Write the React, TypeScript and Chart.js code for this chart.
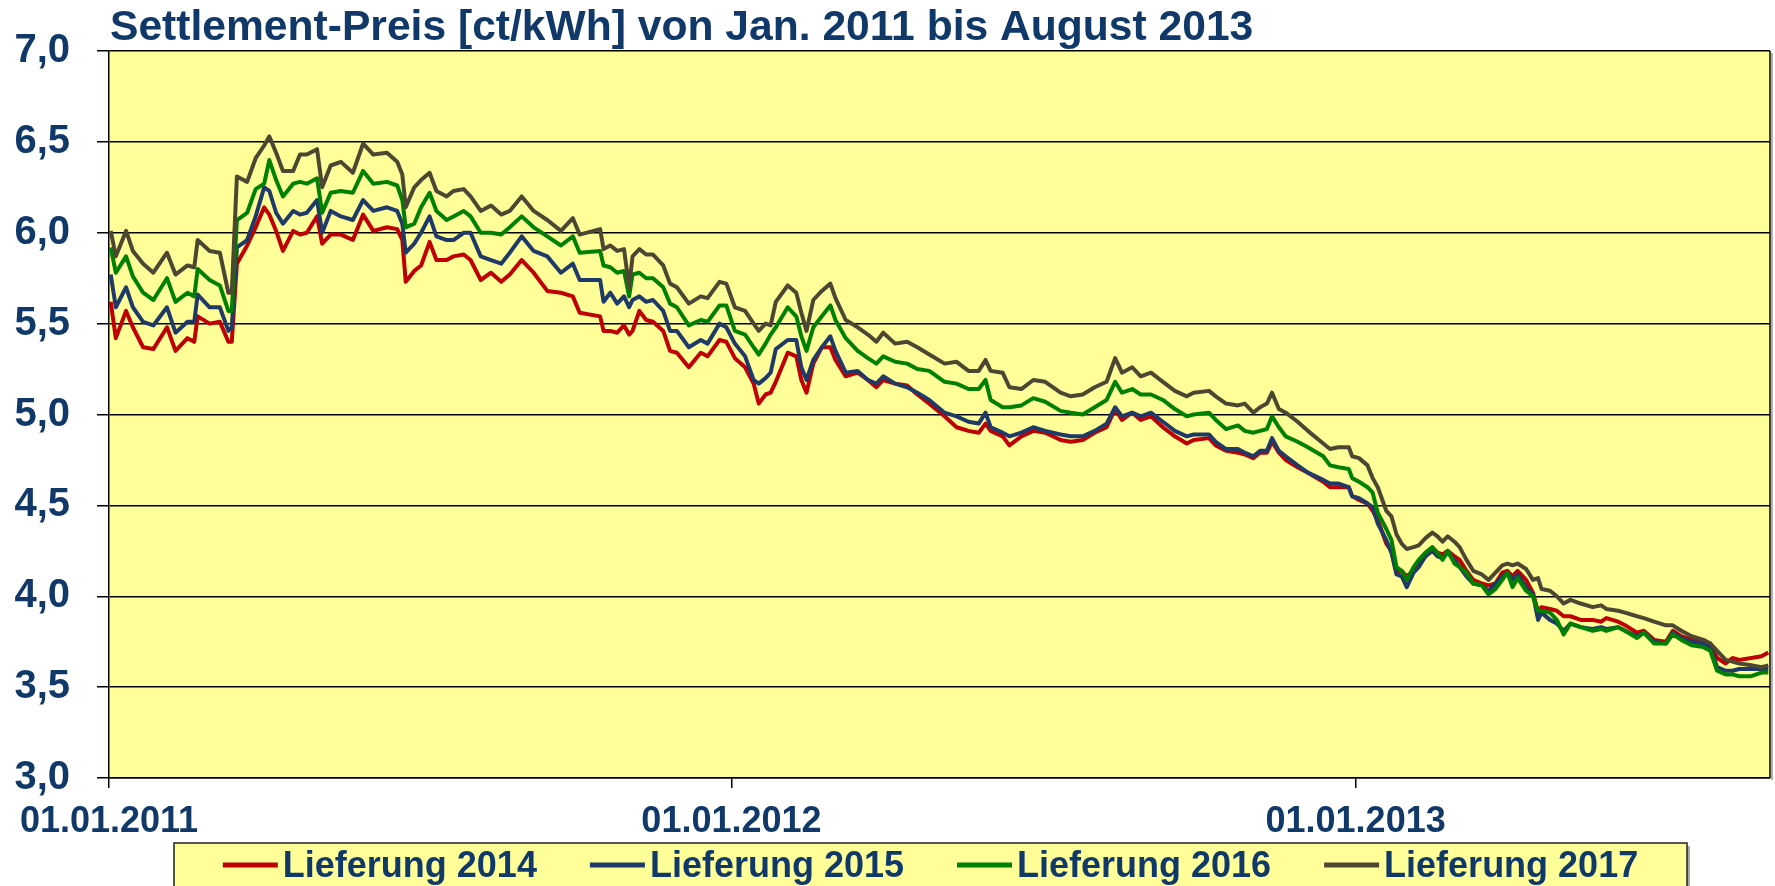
import React, { useEffect, useRef } from 'react';
import { Chart, registerables } from 'chart.js';

Chart.register(...registerables);

const TITLE = 'Settlement-Preis [ct/kWh] von Jan. 2011 bis August 2013';
const seriesLabels = ['Lieferung 2014', 'Lieferung 2015', 'Lieferung 2016', 'Lieferung 2017'];
const seriesColors = ['#C00000', '#1F3A68', '#008000', '#4D4632'];
const xTickDays = [0, 365, 731];
const xTickLabels = ['01.01.2011', '01.01.2012', '01.01.2013'];
const X_MAX_DAY = 974;
const Y_MIN = 3;
const Y_MAX = 7;
const Y_STEP = 0.5;

// sample dates, as days since 01.01.2011
const sampleDay = [
  1, 4, 10, 14, 20, 26, 34, 39, 46, 50, 52, 59, 65, 70, 72, 75, 81, 86, 91, 94,
  98, 102, 108, 112, 116, 122, 125, 130, 136, 143, 149, 155, 163, 169, 172, 174, 179, 183, 188, 192,
  198, 202, 208, 212, 218, 224, 230, 235, 242, 249, 257, 265, 272, 276, 288,
  290, 294, 298, 302, 305, 307, 311, 315, 319, 325, 329, 333, 340, 347, 351, 358, 362, 367, 373, 378,
  381, 385, 388, 391, 398, 403, 406, 409, 413, 418, 423, 426, 432, 439, 445, 450, 454, 461, 468, 474,
  481, 490, 497, 504, 510, 514, 517, 524, 528, 535, 542, 549, 558, 564, 571, 578, 585, 590, 594, 600,
  605, 611, 618, 625, 632, 636,
  645, 649, 655, 662, 666, 671, 675, 679, 682, 686, 690, 697, 703, 712, 716, 721, 727, 729, 733, 738,
  741, 744, 749, 752, 755, 758, 761, 765, 768, 772, 776, 779, 782, 785, 789, 792, 796, 800, 805, 809,
  813, 817, 820, 823, 826, 831, 835, 838, 840, 845, 849, 853, 857, 863, 870, 875, 878, 885, 889, 896,
  900, 906, 913, 917, 922, 928, 935, 939, 943, 948, 952, 956, 963, 969, 973,
];

const lieferung2014 = [
  5.62, 5.42, 5.57, 5.48, 5.37, 5.36, 5.48, 5.35, 5.42, 5.40, 5.54, 5.50, 5.51, 5.40, 5.40, 5.83, 5.93, 6.03, 6.14, 6.10,
  6.01, 5.90, 6.01, 5.99, 6.00, 6.09, 5.94, 5.99, 5.99, 5.96, 6.10, 6.01, 6.03, 6.02, 5.96, 5.73, 5.79, 5.82, 5.95, 5.85,
  5.85, 5.87, 5.88, 5.85, 5.74, 5.78, 5.73, 5.77, 5.85, 5.78, 5.68, 5.67, 5.65, 5.56, 5.54,
  5.46, 5.46, 5.45, 5.49, 5.44, 5.46, 5.57, 5.52, 5.51, 5.46, 5.35, 5.34, 5.26, 5.34, 5.32, 5.41, 5.40, 5.31, 5.26, 5.17,
  5.06, 5.11, 5.12, 5.18, 5.34, 5.32, 5.19, 5.12, 5.28, 5.37, 5.37, 5.30, 5.21, 5.23, 5.19, 5.15, 5.19, 5.17, 5.16, 5.11,
  5.06, 4.99, 4.93, 4.91, 4.90, 4.95, 4.91, 4.88, 4.83, 4.88, 4.91, 4.90, 4.86, 4.85, 4.86, 4.90, 4.93, 5.03, 4.97, 5.01,
  4.97, 4.99, 4.93, 4.88, 4.84, 4.86,
  4.87, 4.83, 4.80, 4.79, 4.78, 4.76, 4.79, 4.79, 4.85, 4.79, 4.75, 4.71, 4.68, 4.63, 4.60, 4.60, 4.60, 4.55, 4.53, 4.51,
  4.47, 4.42, 4.29, 4.25, 4.13, 4.14, 4.11, 4.14, 4.18, 4.22, 4.25, 4.24, 4.23, 4.25, 4.22, 4.20, 4.14, 4.09, 4.07, 4.06,
  4.07, 4.13, 4.14, 4.11, 4.14, 4.09, 4.02, 3.91, 3.94, 3.93, 3.92, 3.89, 3.89, 3.87, 3.87, 3.86, 3.88, 3.86, 3.84, 3.80,
  3.81, 3.76, 3.75, 3.81, 3.78, 3.76, 3.75, 3.74, 3.66, 3.63, 3.66, 3.65, 3.66, 3.67, 3.69,
];

const lieferung2015 = [
  5.77, 5.59, 5.70, 5.59, 5.51, 5.49, 5.59, 5.45, 5.51, 5.51, 5.66, 5.59, 5.59, 5.46, 5.48, 5.92, 5.96, 6.09, 6.25, 6.23,
  6.11, 6.05, 6.12, 6.10, 6.11, 6.18, 6.00, 6.12, 6.09, 6.07, 6.18, 6.12, 6.14, 6.12, 6.05, 5.89, 5.94, 6.00, 6.09, 5.98,
  5.96, 5.96, 6.00, 6.00, 5.87, 5.85, 5.83, 5.89, 5.98, 5.90, 5.87, 5.78, 5.83, 5.74, 5.74,
  5.62, 5.67, 5.61, 5.65, 5.59, 5.63, 5.65, 5.62, 5.63, 5.57, 5.46, 5.46, 5.37, 5.41, 5.39, 5.50, 5.48, 5.39, 5.32, 5.19,
  5.17, 5.20, 5.23, 5.36, 5.41, 5.41, 5.26, 5.19, 5.30, 5.37, 5.43, 5.35, 5.23, 5.24, 5.19, 5.17, 5.21, 5.17, 5.15, 5.12,
  5.08, 5.01, 4.99, 4.96, 4.95, 5.01, 4.93, 4.90, 4.88, 4.90, 4.93, 4.91, 4.89, 4.88, 4.88, 4.91, 4.95, 5.04, 4.99, 5.01,
  4.99, 5.01, 4.96, 4.91, 4.88, 4.89,
  4.89, 4.85, 4.81, 4.81, 4.79, 4.77, 4.80, 4.80, 4.87, 4.80, 4.77, 4.72, 4.68, 4.64, 4.62, 4.62, 4.60, 4.55, 4.54, 4.51,
  4.49, 4.40, 4.31, 4.24, 4.12, 4.11, 4.05, 4.13, 4.16, 4.22, 4.25, 4.22, 4.21, 4.24, 4.20, 4.16, 4.11, 4.07, 4.06, 4.03,
  4.07, 4.11, 4.13, 4.09, 4.12, 4.05, 4.01, 3.87, 3.91, 3.87, 3.85, 3.81, 3.85, 3.83, 3.82, 3.83, 3.82, 3.83, 3.81, 3.78,
  3.80, 3.75, 3.74, 3.80, 3.77, 3.75, 3.74, 3.72, 3.61, 3.59, 3.59, 3.60, 3.60, 3.60, 3.60,
];

const lieferung2016 = [
  5.92, 5.78, 5.87, 5.76, 5.67, 5.63, 5.75, 5.62, 5.67, 5.65, 5.80, 5.74, 5.71, 5.57, 5.57, 6.07, 6.11, 6.24, 6.27, 6.40,
  6.29, 6.20, 6.27, 6.28, 6.27, 6.30, 6.11, 6.22, 6.23, 6.22, 6.34, 6.27, 6.28, 6.26, 6.18, 6.03, 6.05, 6.14, 6.22, 6.12,
  6.07, 6.09, 6.12, 6.09, 6.00, 6.00, 5.99, 6.03, 6.09, 6.03, 5.98, 5.93, 5.98, 5.89, 5.90,
  5.82, 5.81, 5.78, 5.79, 5.65, 5.77, 5.78, 5.75, 5.75, 5.70, 5.61, 5.59, 5.49, 5.52, 5.51, 5.60, 5.60, 5.46, 5.44, 5.37,
  5.33, 5.39, 5.44, 5.48, 5.59, 5.54, 5.43, 5.35, 5.48, 5.54, 5.60, 5.52, 5.42, 5.35, 5.31, 5.28, 5.32, 5.29, 5.28, 5.25,
  5.24, 5.18, 5.17, 5.14, 5.14, 5.19, 5.08, 5.04, 5.04, 5.05, 5.09, 5.07, 5.02, 5.01, 5.00, 5.04, 5.08, 5.18, 5.12, 5.14,
  5.11, 5.11, 5.08, 5.03, 4.99, 5.00,
  5.01, 4.97, 4.92, 4.94, 4.91, 4.90, 4.91, 4.92, 4.99, 4.93, 4.88, 4.85, 4.82, 4.77, 4.72, 4.71, 4.70, 4.65, 4.63, 4.60,
  4.57, 4.46, 4.37, 4.31, 4.16, 4.14, 4.09, 4.16, 4.20, 4.24, 4.27, 4.24, 4.20, 4.25, 4.18, 4.16, 4.13, 4.07, 4.06, 4.01,
  4.04, 4.09, 4.13, 4.05, 4.10, 4.03, 4.00, 3.92, 3.92, 3.91, 3.87, 3.79, 3.85, 3.83, 3.81, 3.82, 3.81, 3.83, 3.81, 3.77,
  3.80, 3.74, 3.74, 3.79, 3.76, 3.73, 3.72, 3.70, 3.59, 3.57, 3.57, 3.56, 3.56, 3.58, 3.58,
];

const lieferung2017 = [
  6.01, 5.87, 6.01, 5.90, 5.83, 5.78, 5.89, 5.77, 5.82, 5.81, 5.96, 5.90, 5.89, 5.67, 5.67, 6.31, 6.28, 6.41, 6.48, 6.53,
  6.44, 6.34, 6.34, 6.43, 6.43, 6.46, 6.25, 6.37, 6.39, 6.33, 6.49, 6.43, 6.44, 6.39, 6.32, 6.14, 6.25, 6.29, 6.33, 6.23,
  6.20, 6.23, 6.24, 6.20, 6.12, 6.15, 6.10, 6.12, 6.20, 6.12, 6.07, 6.01, 6.08, 5.99, 6.02,
  5.91, 5.93, 5.90, 5.91, 5.70, 5.87, 5.91, 5.88, 5.88, 5.82, 5.72, 5.70, 5.61, 5.65, 5.64, 5.73, 5.72, 5.59, 5.57, 5.50,
  5.46, 5.50, 5.49, 5.62, 5.71, 5.67, 5.56, 5.46, 5.63, 5.68, 5.72, 5.64, 5.52, 5.48, 5.44, 5.40, 5.45, 5.39, 5.40, 5.37,
  5.33, 5.28, 5.29, 5.24, 5.24, 5.30, 5.24, 5.23, 5.15, 5.14, 5.19, 5.18, 5.12, 5.10, 5.11, 5.15, 5.18, 5.31, 5.23, 5.26,
  5.21, 5.23, 5.18, 5.13, 5.10, 5.12,
  5.13, 5.10, 5.06, 5.05, 5.06, 5.01, 5.04, 5.06, 5.12, 5.03, 5.01, 4.96, 4.91, 4.84, 4.81, 4.82, 4.82, 4.77, 4.76, 4.72,
  4.65, 4.60, 4.47, 4.44, 4.34, 4.29, 4.26, 4.27, 4.28, 4.32, 4.35, 4.33, 4.30, 4.33, 4.30, 4.27, 4.20, 4.14, 4.12, 4.09,
  4.13, 4.17, 4.18, 4.17, 4.18, 4.15, 4.09, 4.10, 4.04, 4.03, 4.00, 3.96, 3.98, 3.96, 3.94, 3.95, 3.93, 3.92, 3.91, 3.89,
  3.88, 3.86, 3.84, 3.84, 3.81, 3.78, 3.76, 3.74, 3.70, 3.65, 3.64, 3.63, 3.62, 3.61, 3.62,
];

const seriesValues = [lieferung2014, lieferung2015, lieferung2016, lieferung2017];

const FONT = '"Liberation Sans", Arial, sans-serif';
const TEXT_COLOR = '#10396A';
const PLOT_BG = '#FFFF99';

const backgroundPlugin = {
  id: 'plotBackground',
  beforeDraw(chart: any) {
    const { ctx, chartArea } = chart;
    ctx.save();
    ctx.fillStyle = '#FFFFFF';
    ctx.fillRect(0, 0, chart.width, chart.height);
    ctx.fillStyle = PLOT_BG;
    ctx.fillRect(chartArea.left, chartArea.top, chartArea.right - chartArea.left, chartArea.bottom - chartArea.top);
    ctx.restore();
  },
  afterDraw(chart: any) {
    const { ctx, chartArea } = chart;
    ctx.save();
    ctx.strokeStyle = '#B0B0B0';
    ctx.lineWidth = 2;
    ctx.beginPath();
    ctx.moveTo(chartArea.right + 2, chartArea.top + 2);
    ctx.lineTo(chartArea.right + 2, chartArea.bottom + 2);
    ctx.stroke();
    ctx.strokeStyle = '#000000';
    ctx.lineWidth = 1.5;
    ctx.beginPath();
    ctx.moveTo(chartArea.right, chartArea.top);
    ctx.lineTo(chartArea.right, chartArea.bottom);
    ctx.stroke();
    ctx.restore();
  },
};

const titlePlugin = {
  id: 'leftTitle',
  afterDraw(chart: any) {
    const { ctx, chartArea } = chart;
    ctx.save();
    ctx.font = `bold 42.6px ${FONT}`;
    ctx.fillStyle = TEXT_COLOR;
    ctx.textAlign = 'left';
    ctx.textBaseline = 'alphabetic';
    ctx.fillText(TITLE, chartArea.left + 1, 40);
    ctx.restore();
  },
};

const legendPlugin = {
  id: 'boxLegend',
  afterDraw(chart: any) {
    const { ctx } = chart;
    const boxLeft = 174;
    const boxRight = 1687;
    const boxTop = 843;
    const boxBottom = chart.height + 10;
    const lineLen = 55;
    const textGap = 5;
    const itemGap = 53;
    const lineY = 865;
    ctx.save();
    ctx.fillStyle = '#A8A8A8';
    ctx.fillRect(boxLeft + 3, boxTop + 3, boxRight - boxLeft, boxBottom - boxTop);
    ctx.fillStyle = PLOT_BG;
    ctx.fillRect(boxLeft, boxTop, boxRight - boxLeft, boxBottom - boxTop);
    ctx.strokeStyle = '#222222';
    ctx.lineWidth = 1.5;
    ctx.strokeRect(boxLeft, boxTop, boxRight - boxLeft, boxBottom - boxTop);
    ctx.font = `bold 36px ${FONT}`;
    const datasets = chart.data.datasets;
    const widths = datasets.map((d: any) => ctx.measureText(d.label).width);
    const total = widths.reduce((a: number, w: number) => a + lineLen + textGap + w, 0) + itemGap * (datasets.length - 1);
    let x = boxLeft + (boxRight - boxLeft - total) / 2;
    datasets.forEach((d: any, i: number) => {
      ctx.strokeStyle = d.borderColor;
      ctx.lineWidth = 5;
      ctx.lineCap = 'butt';
      ctx.beginPath();
      ctx.moveTo(x, lineY);
      ctx.lineTo(x + lineLen, lineY);
      ctx.stroke();
      ctx.fillStyle = TEXT_COLOR;
      ctx.textAlign = 'left';
      ctx.textBaseline = 'alphabetic';
      ctx.fillText(d.label, x + lineLen + textGap, 877);
      x += lineLen + textGap + widths[i] + itemGap;
    });
    ctx.restore();
  },
};

export default function App() {
  const canvasRef = useRef<HTMLCanvasElement | null>(null);

  useEffect(() => {
    const canvas = canvasRef.current;
    if (!canvas) return;
    const chart = new Chart(canvas, {
      type: 'line',
      data: {
        datasets: seriesLabels.map((label, i) => ({
          label,
          data: sampleDay.map((d, j) => ({ x: d, y: seriesValues[i][j] })),
          borderColor: seriesColors[i],
          backgroundColor: seriesColors[i],
          borderWidth: 4,
          pointRadius: 0,
          pointHoverRadius: 0,
          tension: 0,
          fill: false,
          borderJoinStyle: 'round',
          order: seriesLabels.length - i,
        })),
      },
      options: {
        responsive: false,
        animation: false,
        devicePixelRatio: 1,
        events: [],
        layout: { padding: { top: 51, right: 5, left: 0, bottom: 0 } },
        plugins: {
          legend: { display: false },
          title: { display: false },
          tooltip: { enabled: false },
        },
        scales: {
          x: {
            type: 'linear',
            min: 0,
            max: X_MAX_DAY,
            afterBuildTicks: (scale: any) => {
              scale.ticks = xTickDays.map((v) => ({ value: v }));
            },
            afterFit: (scale: any) => {
              scale.height = 108;
            },
            ticks: {
              autoSkip: false,
              maxRotation: 0,
              minRotation: 0,
              padding: 12,
              color: TEXT_COLOR,
              font: { family: FONT, size: 36, weight: 'bold' },
              callback: (value: any) => {
                const k = xTickDays.indexOf(Number(value));
                return k >= 0 ? xTickLabels[k] : '';
              },
            },
            grid: {
              drawOnChartArea: false,
              drawTicks: true,
              tickLength: 10,
              color: '#000000',
              lineWidth: 1.5,
            },
            border: { color: '#000000', width: 1.5 },
          },
          y: {
            type: 'linear',
            min: Y_MIN,
            max: Y_MAX,
            afterFit: (scale: any) => {
              scale.width = 109;
            },
            ticks: {
              stepSize: Y_STEP,
              padding: 27,
              color: TEXT_COLOR,
              font: { family: FONT, size: 40, weight: 'bold' },
              callback: (value: any) => Number(value).toFixed(1).replace('.', ','),
            },
            grid: {
              color: '#000000',
              lineWidth: 1.5,
              tickLength: 12,
            },
            border: { color: '#000000', width: 1.5 },
          },
        },
      } as any,
      plugins: [backgroundPlugin, titlePlugin, legendPlugin],
    });
    return () => chart.destroy();
  }, []);

  return (
    <div style={{ position: 'absolute', left: 0, top: 0, width: 1775, height: 886, overflow: 'hidden', background: '#fff' }}>
      <canvas ref={canvasRef} width={1775} height={886} style={{ width: 1775, height: 886, display: 'block' }} />
    </div>
  );
}
